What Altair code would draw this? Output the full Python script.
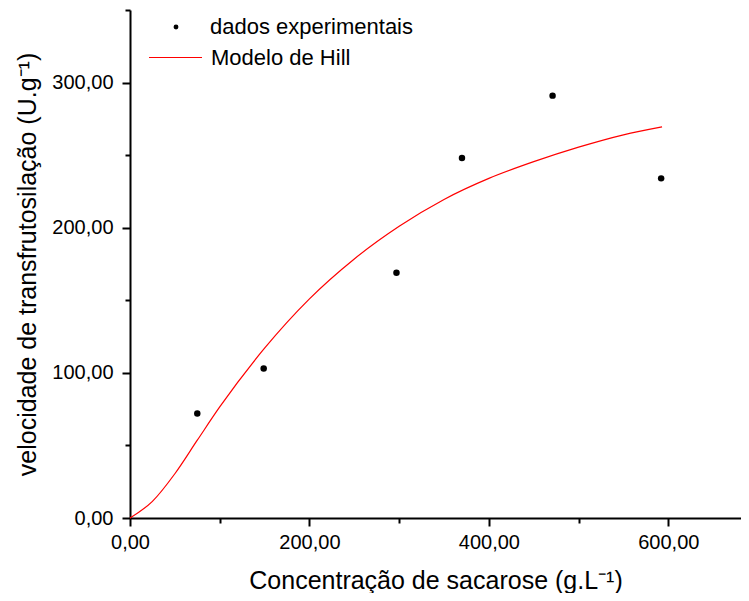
import altair as alt
import pandas as pd

# ---- data ----
x_exp = [75, 149, 297, 370, 471, 592]
y_exp = [72, 103, 169, 248, 291, 234]

x_hill = [0, 25, 50, 75, 100, 150, 200, 250, 300, 350, 400, 450, 500, 550, 593]
y_hill = [0, 11.5, 30.5, 53.6, 76.5, 117, 151, 178.5, 201, 219.5, 234, 245.5,
          255.5, 264, 269.5]

x_ticks = [0, 100, 200, 300, 400, 500, 600]
y_ticks = [0, 50, 100, 150, 200, 250, 300, 350]

serie_exp = "dados experimentais"
serie_hill = "Modelo de Hill"

FONT = "Liberation Sans"

exp_df = pd.DataFrame({"x": x_exp, "y": y_exp, "serie": serie_exp})
hill_df = pd.DataFrame({"x": x_hill, "y": y_hill, "modelo": serie_hill})

x_scale = alt.Scale(domain=[0, 681], nice=False, zero=False)
y_scale = alt.Scale(domain=[0, 350], nice=False)

fmt = "replace(format(datum.value, '.2f'), '.', ',')"

x_axis = alt.Axis(
    values=x_ticks,
    title="Concentração de sacarose (g.L⁻¹)",
    labelExpr=f"datum.value % 200 === 0 ? {fmt} : ''",
    tickSize={"condition": {"test": "datum.value % 200 === 0", "value": 8}, "value": 5},
    labelFlush=False,
    labelOverlap=False,
    labelPadding=6,
    titleY=70,
    titleBaseline="alphabetic",
    grid=False,
)
y_axis = alt.Axis(
    values=y_ticks,
    title="velocidade de transfrutosilação (U.g⁻¹)",
    labelExpr=f"datum.value % 100 === 0 ? {fmt} : ''",
    tickSize={"condition": {"test": "datum.value % 100 === 0", "value": 8}, "value": 5},
    labelOverlap=False,
    labelPadding=9,
    titleX=-95,
    titleBaseline="alphabetic",
    grid=False,
)

points = alt.Chart(exp_df).mark_point(filled=True, opacity=1, size=42).encode(
    x=alt.X("x:Q", scale=x_scale, axis=x_axis),
    y=alt.Y("y:Q", scale=y_scale, axis=y_axis),
    color=alt.Color(
        "serie:N",
        scale=alt.Scale(domain=[serie_exp], range=["black"]),
        legend=alt.Legend(
            title=None, orient="none", legendX=35, legendY=6,
            symbolType="circle", symbolSize=24, labelOffset=23,
            symbolStrokeWidth=0,
        ),
    ),
)

line = alt.Chart(hill_df).mark_line(strokeWidth=1.2, interpolate="monotone").encode(
    x=alt.X("x:Q", scale=x_scale),
    y=alt.Y("y:Q", scale=y_scale),
    color=alt.Color(
        "modelo:N",
        scale=alt.Scale(domain=[serie_hill], range=["#ff0000"]),
        legend=alt.Legend(
            title=None, orient="none", legendX=18, legendY=20,
            symbolType="stroke", symbolSize=2809, labelOffset=8,
            symbolStrokeWidth=1.2,
        ),
    ),
)

chart = (
    alt.layer(line, points)
    .resolve_scale(color="independent")
    .properties(
        width=611,
        height=508,
        autosize=alt.AutoSizeParams(type="none"),
        padding={"left": 122, "top": 2, "right": 0, "bottom": 75},
    )
    .configure_view(stroke=None)
    .configure_axis(
        labelFont=FONT, labelFontSize=20, labelColor="black",
        titleFont=FONT, titleFontSize=25, titleFontWeight="normal", titleColor="black",
        domainColor="black", domainWidth=2, tickColor="black", tickWidth=2,
    )
    .configure_legend(
        labelFont=FONT, labelFontSize=22, labelColor="black", padding=0, offset=0,
        labelLimit=400,
    )
)

chart.save("out.html", embed_options={"renderer": "svg", "actions": False})
